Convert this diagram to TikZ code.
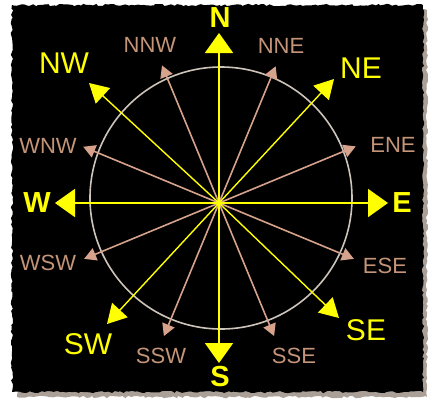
\documentclass[tikz,border=0pt]{standalone}
\usepackage{fontspec}
\setmainfont{Liberation Sans}
\usetikzlibrary{arrows.meta,calc,decorations.pathmorphing}
\definecolor{cyel}{RGB}{255,255,0}
\definecolor{ctan}{RGB}{214,162,140}
\definecolor{ctxt}{RGB}{196,148,120}
\definecolor{cring}{RGB}{205,196,186}
\definecolor{cshadow}{RGB}{170,160,152}
\tikzset{
  torn/.style={decorate,decoration={random steps,segment length=3pt,amplitude=1.2pt}},
  major/.style={cyel,line width=2pt,-{Triangle[length=20pt,width=28pt]}},
  diag/.style={cyel,line width=1.4pt,-{Triangle[length=19pt,width=21pt]}},
  minor/.style={ctan,line width=1.6pt,-{Triangle[length=12pt,width=13pt]}},
  bigtxt/.style={cyel,inner sep=0pt,font=\fontsize{29}{29}\selectfont\bfseries},
  midtxt/.style={cyel,inner sep=0pt,font=\fontsize{30}{30}\selectfont},
  smalltxt/.style={ctxt,inner sep=0pt,font=\fontsize{22}{22}\selectfont},
}
\begin{document}
\begin{tikzpicture}[x=1pt,y=-1pt]
\useasboundingbox (0,0) rectangle (428,400);
\fill[white] (0,0) rectangle (428,400);
\fill[cshadow,torn] (17,10) rectangle (427,397);
\fill[black,torn] (12,5) rectangle (423,392);
% ring
\draw[cring,line width=1.6pt] (221,198) circle [radius=131pt];
% centre
\coordinate (O) at (219,203);
% tips
\coordinate (tN) at (219,33);
\coordinate (tE) at (388,203);
\coordinate (tS) at (219,363);
\coordinate (tW) at (55,203);
\coordinate (tNE) at (334,79);
\coordinate (tNW) at (89,83);
\coordinate (tSE) at (339,318);
\coordinate (tSW) at (107,324);
\coordinate (tNNE) at ($(O)+(-67.5:148)$);
\coordinate (tENE) at ($(O)+(-22.5:148)$);
\coordinate (tESE) at ($(O)+(22.5:146)$);
\coordinate (tSSE) at ($(O)+(67.5:144)$);
\coordinate (tSSW) at ($(O)+(112.5:144)$);
\coordinate (tWSW) at ($(O)+(157.5:146)$);
\coordinate (tWNW) at ($(O)+(-157.5:147)$);
\coordinate (tNNW) at ($(O)+(-112.5:149)$);
% minor arrows
\foreach \d in {NNE,ENE,ESE,SSE,SSW,WSW,WNW,NNW}
  \draw[minor] (O) -- (t\d);
% diagonal arrows
\foreach \d in {NE,SE,SW,NW}
  \draw[diag] (O) -- (t\d);
% major arrows
\foreach \d in {N,E,S,W}
  \draw[major] (O) -- (t\d);
% labels
\node[bigtxt] (lN) at (220,18) {N};
\node[bigtxt] (lE) at (402,203) {E};
\node[bigtxt] (lS) at (220,377) {S};
\node[bigtxt] (lW) at (37,203) {W};
\node[midtxt] (lNW) at (64,63) {NW};
\node[midtxt] (lNE) at (361,68) {NE};
\node[midtxt] (lSE) at (366,330) {SE};
\node[midtxt] (lSW) at (88,344) {SW};
\node[smalltxt] (lNNW) at (150,45) {NNW};
\node[smalltxt] (lNNE) at (281,46) {NNE};
\node[smalltxt] (lENE) at (393,145) {ENE};
\node[smalltxt] (lWNW) at (48,146) {WNW};
\node[smalltxt] (lWSW) at (48,263) {WSW};
\node[smalltxt] (lSSW) at (161,356) {SSW};
\node[smalltxt] (lSSE) at (294,356) {SSE};
\node[smalltxt] (lESE) at (385,266) {ESE};
\end{tikzpicture}
\end{document}
